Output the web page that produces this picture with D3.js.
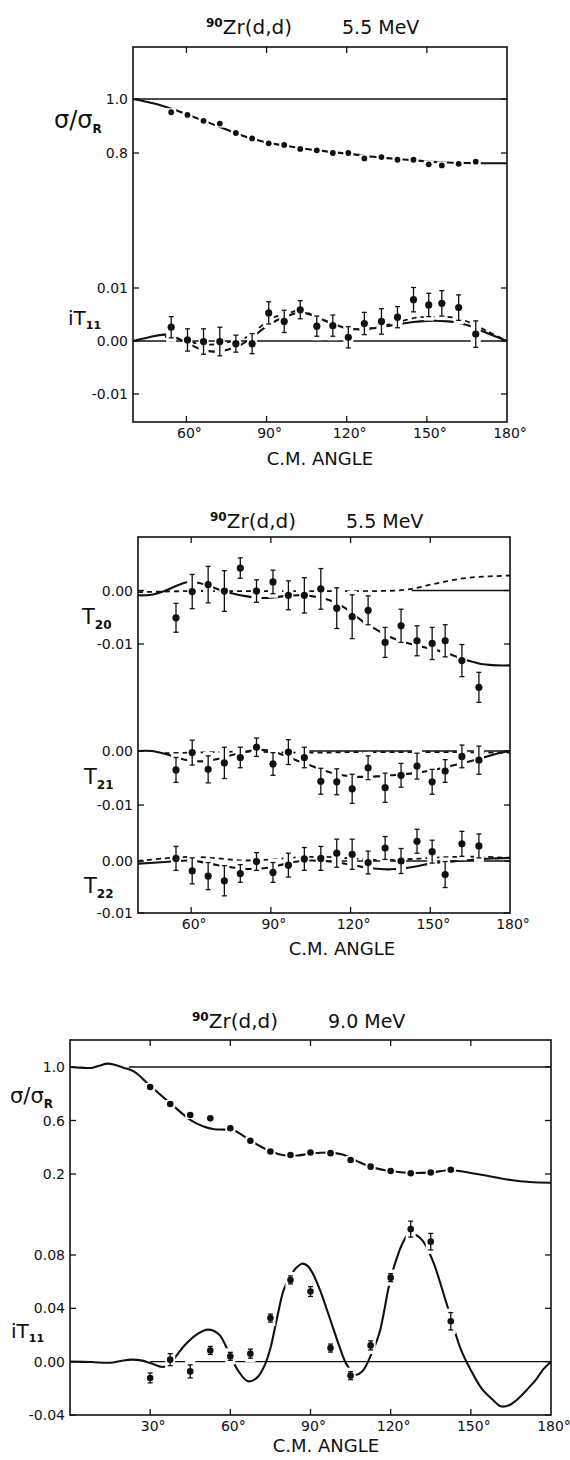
<!DOCTYPE html>
<html>
<head>
<meta charset="utf-8">
<script src="https://cdn.jsdelivr.net/npm/d3@7"></script>
<style>
  body { margin: 0; background: #fff; }
  svg text { font-family: "DejaVu Sans", sans-serif; fill: #111; }
</style>
</head>
<body>
<svg id="fig" width="570" height="1460"></svg>
<script>
// ---- measured angles (deg, c.m.) ----
const angles55 = [54.3, 60.4, 66.4, 72.5, 78.5, 84.6, 90.8, 96.6, 102.6, 108.8, 114.8, 120.6, 126.6, 133.0, 139.0, 145.0, 150.7, 155.6, 161.9, 168.3];
const angles90 = [30, 37.5, 45, 52.5, 60, 67.5, 75, 82.5, 90, 97.5, 105, 112.5, 120, 127.5, 135, 142.5];

// ---- 5.5 MeV data ----
const sig55 = [0.951, 0.941, 0.919, 0.909, 0.874, 0.854, 0.836, 0.830, 0.815, 0.810, 0.800, 0.800, 0.780, 0.785, 0.775, 0.775, 0.758, 0.754, 0.760, 0.768];
const it11_55 = [0.0026, 0.0002, -0.0001, -0.0001, -0.0005, -0.0005, 0.0053, 0.0037, 0.0059, 0.0028, 0.0029, 0.0007, 0.0033, 0.0037, 0.0045, 0.0078, 0.0068, 0.0071, 0.0063, 0.0013];
const it11_55err = [0.0020, 0.0021, 0.0024, 0.0027, 0.0016, 0.0019, 0.0021, 0.0021, 0.0017, 0.0019, 0.0020, 0.0020, 0.0021, 0.0024, 0.0020, 0.0023, 0.0022, 0.0024, 0.0024, 0.0025];
const t20 = [-0.0051, -0.0002, 0.0011, -0.0001, 0.0042, -0.0001, 0.0016, -0.0009, -0.0009, 0.0003, -0.0033, -0.0049, -0.0037, -0.0097, -0.0066, -0.0094, -0.0099, -0.0094, -0.0131, -0.0181];
const t20err = [0.0027, 0.0032, 0.0034, 0.0038, 0.0019, 0.0021, 0.0022, 0.0027, 0.0033, 0.0038, 0.0038, 0.0041, 0.0027, 0.0028, 0.0031, 0.0028, 0.0030, 0.0030, 0.0030, 0.0028];
const t21 = [-0.0035, -0.0003, -0.0034, -0.0022, -0.0012, 0.0007, -0.0024, -0.0002, -0.0012, -0.0056, -0.0057, -0.0070, -0.0031, -0.0068, -0.0045, -0.0028, -0.0057, -0.0037, -0.0010, -0.0017];
const t21err = [0.0023, 0.0023, 0.0025, 0.0029, 0.0019, 0.0017, 0.0021, 0.0023, 0.0019, 0.0024, 0.0024, 0.0027, 0.0022, 0.0027, 0.0022, 0.0024, 0.0023, 0.0021, 0.0021, 0.0026];
const t22 = [0.0005, -0.0019, -0.0029, -0.0038, -0.0024, -0.0001, -0.0022, -0.0008, 0.0004, 0.0005, 0.0015, 0.0013, -0.0003, 0.0025, 0.0000, 0.0038, 0.0018, -0.0026, 0.0033, 0.0029];
const t22err = [0.0023, 0.0025, 0.0026, 0.0029, 0.0017, 0.0017, 0.0019, 0.0023, 0.0022, 0.0023, 0.0027, 0.0029, 0.0022, 0.0022, 0.0024, 0.0023, 0.0022, 0.0025, 0.0024, 0.0023];

// ---- 9.0 MeV data ----
const sig90 = [0.850, 0.723, 0.641, 0.616, 0.542, 0.449, 0.368, 0.342, 0.361, 0.356, 0.305, 0.255, 0.222, 0.206, 0.211, 0.232];
const it11_90 = [-0.0122, 0.0015, -0.0073, 0.0084, 0.0040, 0.0060, 0.0327, 0.0613, 0.0526, 0.0102, -0.0105, 0.0122, 0.0630, 0.0994, 0.0900, 0.0303];
const it11_90err = [0.0037, 0.0045, 0.0049, 0.0030, 0.0030, 0.0034, 0.0030, 0.0030, 0.0037, 0.0030, 0.0030, 0.0034, 0.0030, 0.0060, 0.0062, 0.0065];

// ---- calculated curves ----
const sig55CurveA = [40, 45, 50, 55, 60, 65, 70, 75, 80, 85, 90, 95, 100, 105, 110, 115, 120, 125, 130, 135, 140, 145, 150, 155, 160, 165, 170, 175, 180];
const sig55CurveV = [1.0, 0.99, 0.978, 0.962, 0.944, 0.925, 0.906, 0.887, 0.868, 0.852, 0.839, 0.83, 0.822, 0.815, 0.809, 0.803, 0.798, 0.792, 0.786, 0.781, 0.777, 0.773, 0.769, 0.766, 0.764, 0.763, 0.762, 0.762, 0.762];

const it55CurveA = [40, 46, 52, 56, 60, 65, 70, 75, 80, 85, 90, 95, 100, 103, 107, 111, 115, 120, 125, 130, 135, 140, 145, 150, 155, 160, 165, 170, 175, 180];
const it55CurveV = [0, 0.0007, 0.0012, 0.0006, -0.0003, -0.0015, -0.002, -0.0017, -0.0008, 0.0008, 0.0028, 0.0042, 0.0051, 0.0054, 0.0049, 0.004, 0.0032, 0.0024, 0.0022, 0.0024, 0.0028, 0.0032, 0.0036, 0.0038, 0.0038, 0.0036, 0.003, 0.002, 0.001, 0];
const it55DashA = [52, 58.8, 65, 71, 77.6, 83.8, 87.5, 91.3, 97.5, 102.5, 107.5, 115, 120, 125, 132, 138.7, 146, 152.4, 160, 166, 172, 180];
const it55DashV = [0.0008, 0.0003, -0.0006, -0.0006, 0, 0.001, 0.0026, 0.0042, 0.0051, 0.0058, 0.0048, 0.0032, 0.0024, 0.0021, 0.0027, 0.0035, 0.0044, 0.0046, 0.0044, 0.0035, 0.002, 0];

const t20CurveA = [40, 45, 50, 55, 59, 63, 67, 71, 76, 81, 86, 91, 96, 101, 106, 110, 114, 118, 122, 126, 130, 134, 138, 142, 146, 150, 155, 160, 165, 170, 175, 180];
const t20CurveV = [-0.0009, -0.0008, -0.0001, 0.001, 0.0016, 0.0014, 0.0008, 0.0001, -0.0006, -0.0011, -0.0014, -0.0013, -0.001, -0.0009, -0.0011, -0.0015, -0.0022, -0.0033, -0.0048, -0.0063, -0.0074, -0.0085, -0.0093, -0.0099, -0.0104, -0.0109, -0.0115, -0.0124, -0.0132, -0.0138, -0.014, -0.014];
const t20DashA = [40, 50, 60, 70, 80, 90, 100, 110, 120, 130, 140, 145, 150, 155, 160, 165, 170, 175, 180];
const t20DashV = [-0.0003, -0.0002, -0.0001, -0.0001, -0.0001, -0.0001, -0.0001, -0.0001, -0.0001, -0.0001, 0.0001, 0.0005, 0.0011, 0.0016, 0.0021, 0.0024, 0.0026, 0.0027, 0.0028];

const t21CurveA = [40, 45, 50, 55, 60, 65, 70, 75, 80, 85, 90, 95, 100, 105, 110, 115, 120, 125, 130, 135, 140, 145, 150, 155, 160, 165, 170, 175, 180];
const t21CurveV = [0, 0, -0.0005, -0.0013, -0.0018, -0.0019, -0.0015, -0.0008, -0.0002, 0.0002, 0, -0.0008, -0.0018, -0.0027, -0.0036, -0.0043, -0.0047, -0.0048, -0.0047, -0.0045, -0.0043, -0.004, -0.0036, -0.0031, -0.0025, -0.0019, -0.0012, -0.0005, 0];
const t21DashA = [50, 60, 70, 80, 90, 100, 110, 120, 130, 140, 150, 160, 170, 180];
const t21DashV = [-0.0004, -0.0003, -0.0002, -0.0001, -0.0002, -0.0003, -0.0003, -0.0002, -0.0002, -0.0002, -0.0002, -0.0002, -0.0003, -0.0003];

const t22CurveA = [40, 50, 60, 65, 70, 75, 80, 85, 90, 95, 100, 105, 110, 115, 120, 125, 130, 135, 140, 145, 150, 155, 160, 165, 170, 175, 180];
const t22CurveV = [-0.0005, -0.0002, 0.0001, -0.0003, -0.0008, -0.0012, -0.0015, -0.0015, -0.0012, -0.0006, -0.0001, 0.0001, 0, -0.0003, -0.0007, -0.0012, -0.0015, -0.0016, -0.0014, -0.001, -0.0005, -0.0002, 0, 0.0002, 0.0004, 0.0005, 0.0006];
const t22DashA = [40, 50, 60, 70, 80, 90, 100, 110, 120, 130, 140, 150, 160, 170, 180];
const t22DashV = [0, 0.0005, 0.0008, 0.0005, 0.0001, 0.0003, 0.0007, 0.0008, 0.0005, 0.0002, 0.0003, 0.0006, 0.0008, 0.0008, 0.0006];

const sig90CurveA = [0, 4, 8, 11, 14, 17, 20, 24, 30, 37.5, 45, 50, 54, 58, 62, 67.5, 75, 80, 85, 90, 97.5, 102, 107, 112.5, 120, 127.5, 135, 142.5, 150, 158, 165, 172, 180];
const sig90CurveV = [1.0, 0.995, 0.993, 1.01, 1.025, 1.015, 0.995, 0.965, 0.86, 0.73, 0.605, 0.555, 0.535, 0.532, 0.52, 0.45, 0.37, 0.34, 0.338, 0.352, 0.36, 0.345, 0.3, 0.255, 0.222, 0.208, 0.212, 0.228, 0.208, 0.18, 0.155, 0.14, 0.135];

const it90CurveA = [0, 8, 15, 19, 23, 27, 30, 34.6, 37, 40, 43, 47.5, 51.6, 55.7, 59.8, 63, 66.6, 70, 73, 75, 77.5, 80, 82.2, 84.5, 86.8, 88.8, 90.9, 93.5, 95.8, 98.5, 100.8, 103.5, 106.8, 109.5, 112.4, 115.8, 119.5, 122, 124.5, 127, 129.5, 131.9, 135.7, 140.7, 146.3, 149.9, 154, 158.1, 161.2, 164.5, 167.6, 171, 174.4, 177, 180];
const it90CurveV = [0, -0.0003, -0.0008, 0.0005, 0.0015, 0.0008, -0.001, -0.004, -0.0025, 0.005, 0.0125, 0.0205, 0.024, 0.0205, 0.0052, -0.007, -0.0147, -0.012, -0.002, 0.01, 0.033, 0.054, 0.063, 0.07, 0.0735, 0.072, 0.066, 0.054, 0.041, 0.025, 0.0115, -0.002, -0.0098, -0.007, 0.004, 0.0217, 0.058, 0.076, 0.089, 0.0965, 0.095, 0.091, 0.076, 0.045, 0.009, -0.006, -0.02, -0.0284, -0.0335, -0.0325, -0.028, -0.021, -0.0135, -0.006, 0];

const ink = "#111";
const svg = d3.select("#fig");
const fmt = f => v => d3.format(f)(v).replace("\u2212", "-");

function drawPanel(p) {
  const x = d3.scaleLinear().domain(p.xDomain).range([p.left, p.right]);
  const lines = svg.append("g"), erase = svg.append("g"), marks = svg.append("g"), frame = svg.append("g");

  p.subs.forEach(s => {
    const y = d3.scaleLinear().domain(s.domain).range(s.range);
    const line = d3.line().x(d => x(d[0])).y(d => y(d[1])).curve(d3.curveCatmullRom.alpha(0.5));

    // reference lines (unity / zero)
    lines.append("line")
      .attr("x1", x(s.ref[0])).attr("x2", x(s.ref[1]))
      .attr("y1", y(s.ref[2])).attr("y2", y(s.ref[2]))
      .attr("stroke", ink).attr("stroke-width", 1.3);

    s.curves.forEach(c => {
      lines.append("path").datum(d3.zip(c.a, c.v))
        .attr("d", line).attr("fill", "none").attr("stroke", ink)
        .attr("stroke-width", c.dash ? 1.8 : 2.1)
        .attr("stroke-dasharray", c.dash || null);
    });

    const errs = s.err || s.px.map(() => 0);
    const pts = d3.zip(s.px, s.py, errs);

    // curves are broken around every data point, as in the original
    erase.selectAll(null).data(pts).join("rect")
      .attr("x", d => x(d[0]) - 5).attr("width", 10)
      .attr("y", d => y(d[1] + d[2]) - 4)
      .attr("height", d => y(d[1] - d[2]) - y(d[1] + d[2]) + 8)
      .attr("fill", "#fff");

    if (s.err) {
      const eb = marks.selectAll(null).data(pts).join("g");
      eb.append("line").attr("x1", d => x(d[0])).attr("x2", d => x(d[0]))
        .attr("y1", d => y(d[1] + d[2])).attr("y2", d => y(d[1] - d[2]))
        .attr("stroke", ink).attr("stroke-width", 1.3);
      [1, -1].forEach(sg => {
        eb.append("line").attr("x1", d => x(d[0]) - 2.5).attr("x2", d => x(d[0]) + 2.5)
          .attr("y1", d => y(d[1] + sg * d[2])).attr("y2", d => y(d[1] + sg * d[2]))
          .attr("stroke", ink).attr("stroke-width", 1.3);
      });
    }
    marks.selectAll(null).data(pts).join("circle")
      .attr("cx", d => x(d[0])).attr("cy", d => y(d[1]))
      .attr("r", s.r).attr("fill", ink);

    // y ticks and labels
    s.ticks.forEach(t => {
      frame.append("line").attr("x1", p.left).attr("x2", p.left + 6)
        .attr("y1", y(t)).attr("y2", y(t)).attr("stroke", ink).attr("stroke-width", 1.3);
      frame.append("line").attr("x1", p.right).attr("x2", p.right - 6)
        .attr("y1", y(t)).attr("y2", y(t)).attr("stroke", ink).attr("stroke-width", 1.3);
      frame.append("text").attr("x", p.left - 5).attr("y", y(t)).attr("dy", "0.36em")
        .attr("text-anchor", "end").attr("font-size", 14).text(s.tickFmt(t));
    });

    // quantity label
    const lab = frame.append("text").attr("x", s.label.x).attr("y", s.label.y);
    s.label.parts.forEach(pt => {
      lab.append("tspan").attr("font-size", pt.size).attr("font-weight", pt.bold ? "bold" : null)
        .attr("dy", pt.dy || 0).text(pt.t);
    });
  });

  // frame and x axis
  frame.append("rect").attr("x", p.left).attr("y", p.top)
    .attr("width", p.right - p.left).attr("height", p.bottom - p.top)
    .attr("fill", "none").attr("stroke", ink).attr("stroke-width", 1.6);
  p.xTicks.forEach(t => {
    frame.append("line").attr("x1", x(t)).attr("x2", x(t)).attr("y1", p.top).attr("y2", p.top + 6)
      .attr("stroke", ink).attr("stroke-width", 1.3);
    frame.append("line").attr("x1", x(t)).attr("x2", x(t)).attr("y1", p.bottom).attr("y2", p.bottom - 6)
      .attr("stroke", ink).attr("stroke-width", 1.3);
  });
  p.xLabels.forEach(t => {
    frame.append("text").attr("x", x(t) + 3).attr("y", p.bottom + 16)
      .attr("text-anchor", "middle").attr("font-size", 14).text(t + "\u00b0");
  });
  frame.append("text").attr("x", p.axisX).attr("y", p.bottom + p.axisGap)
    .attr("text-anchor", "middle").attr("font-size", 18).text("C.M. ANGLE");

  // title
  const ti = frame.append("text").attr("x", p.titleX).attr("y", p.titleY).attr("text-anchor", "end");
  ti.append("tspan").attr("font-size", 12).attr("font-weight", "bold").attr("dy", -7).text("90");
  ti.append("tspan").attr("font-size", 20).attr("dy", 7).text("Zr(d,d)");
  frame.append("text").attr("x", p.titleX + 50).attr("y", p.titleY).attr("font-size", 19).text(p.energy);
}

const sigLabel = (x, y, sz) => ({ x, y, parts: [{ t: "\u03c3/\u03c3", size: sz }, { t: "R", size: 12, bold: true, dy: 5 }] });
const itLabel = (x, y) => ({ x, y, parts: [{ t: "iT", size: 20 }, { t: "11", size: 11, bold: true, dy: 4 }] });
const tLabel = (x, y, k) => ({ x, y, parts: [{ t: "T", size: 21 }, { t: k, size: 12, bold: true, dy: 5 }] });

drawPanel({
  xDomain: [40, 180], left: 133, right: 507, top: 47, bottom: 422,
  xTicks: [60, 90, 120, 150], xLabels: [60, 90, 120, 150, 180], axisX: 320, axisGap: 43,
  titleX: 292, titleY: 34, energy: "5.5 MeV",
  subs: [
    { domain: [0.8, 1.0], range: [153, 99], ticks: [1.0, 0.8], tickFmt: fmt(".1f"),
      ref: [40, 180, 1.0], r: 2.9, px: angles55, py: sig55,
      curves: [{ a: sig55CurveA, v: sig55CurveV }], label: sigLabel(54, 128, 24) },
    { domain: [-0.01, 0.01], range: [394, 288], ticks: [0.01, 0, -0.01], tickFmt: fmt(".2f"),
      ref: [40, 180, 0], r: 3.6, px: angles55, py: it11_55, err: it11_55err,
      curves: [{ a: it55CurveA, v: it55CurveV }, { a: it55DashA, v: it55DashV, dash: "5,4" }],
      label: itLabel(68, 325) }
  ]
});

drawPanel({
  xDomain: [40, 180], left: 138, right: 510, top: 537, bottom: 913,
  xTicks: [60, 90, 120, 150], xLabels: [60, 90, 120, 150, 180], axisX: 342, axisGap: 42,
  titleX: 296, titleY: 528, energy: "5.5 MeV",
  subs: [
    { domain: [-0.01, 0], range: [644, 590.5], ticks: [0, -0.01], tickFmt: fmt(".2f"),
      ref: [143, 180, 0], r: 3.6, px: angles55, py: t20, err: t20err,
      curves: [{ a: t20CurveA, v: t20CurveV }, { a: t20DashA, v: t20DashV, dash: "5,4" }],
      label: tLabel(82, 624, "20") },
    { domain: [-0.01, 0], range: [805, 751], ticks: [0, -0.01], tickFmt: fmt(".2f"),
      ref: [104, 180, 0], r: 3.6, px: angles55, py: t21, err: t21err,
      curves: [{ a: t21CurveA, v: t21CurveV }, { a: t21DashA, v: t21DashV, dash: "5,4" }],
      label: tLabel(84, 784, "21") },
    { domain: [-0.01, 0], range: [913, 861], ticks: [0, -0.01], tickFmt: fmt(".2f"),
      ref: [110, 180, 0], r: 3.6, px: angles55, py: t22, err: t22err,
      curves: [{ a: t22CurveA, v: t22CurveV }, { a: t22DashA, v: t22DashV, dash: "5,4" }],
      label: tLabel(84, 893, "22") }
  ]
});

drawPanel({
  xDomain: [0, 180], left: 70, right: 551, top: 1040, bottom: 1415,
  xTicks: [30, 60, 90, 120, 150], xLabels: [30, 60, 90, 120, 150, 180], axisX: 326, axisGap: 37,
  titleX: 278, titleY: 1028, energy: "9.0 MeV",
  subs: [
    { domain: [0.2, 1.0], range: [1174, 1067], ticks: [1.0, 0.6, 0.2], tickFmt: fmt(".1f"),
      ref: [22, 180, 1.0], r: 3.3, px: angles90, py: sig90,
      curves: [{ a: sig90CurveA, v: sig90CurveV }], label: sigLabel(10, 1103, 21) },
    { domain: [-0.04, 0.08], range: [1415, 1255], ticks: [0.08, 0.04, 0, -0.04], tickFmt: fmt(".2f"),
      ref: [30, 180, 0], r: 3.3, px: angles90, py: it11_90, err: it11_90err,
      curves: [{ a: it90CurveA, v: it90CurveV }], label: itLabel(11, 1338) }
  ]
});
</script>
</body>
</html>
